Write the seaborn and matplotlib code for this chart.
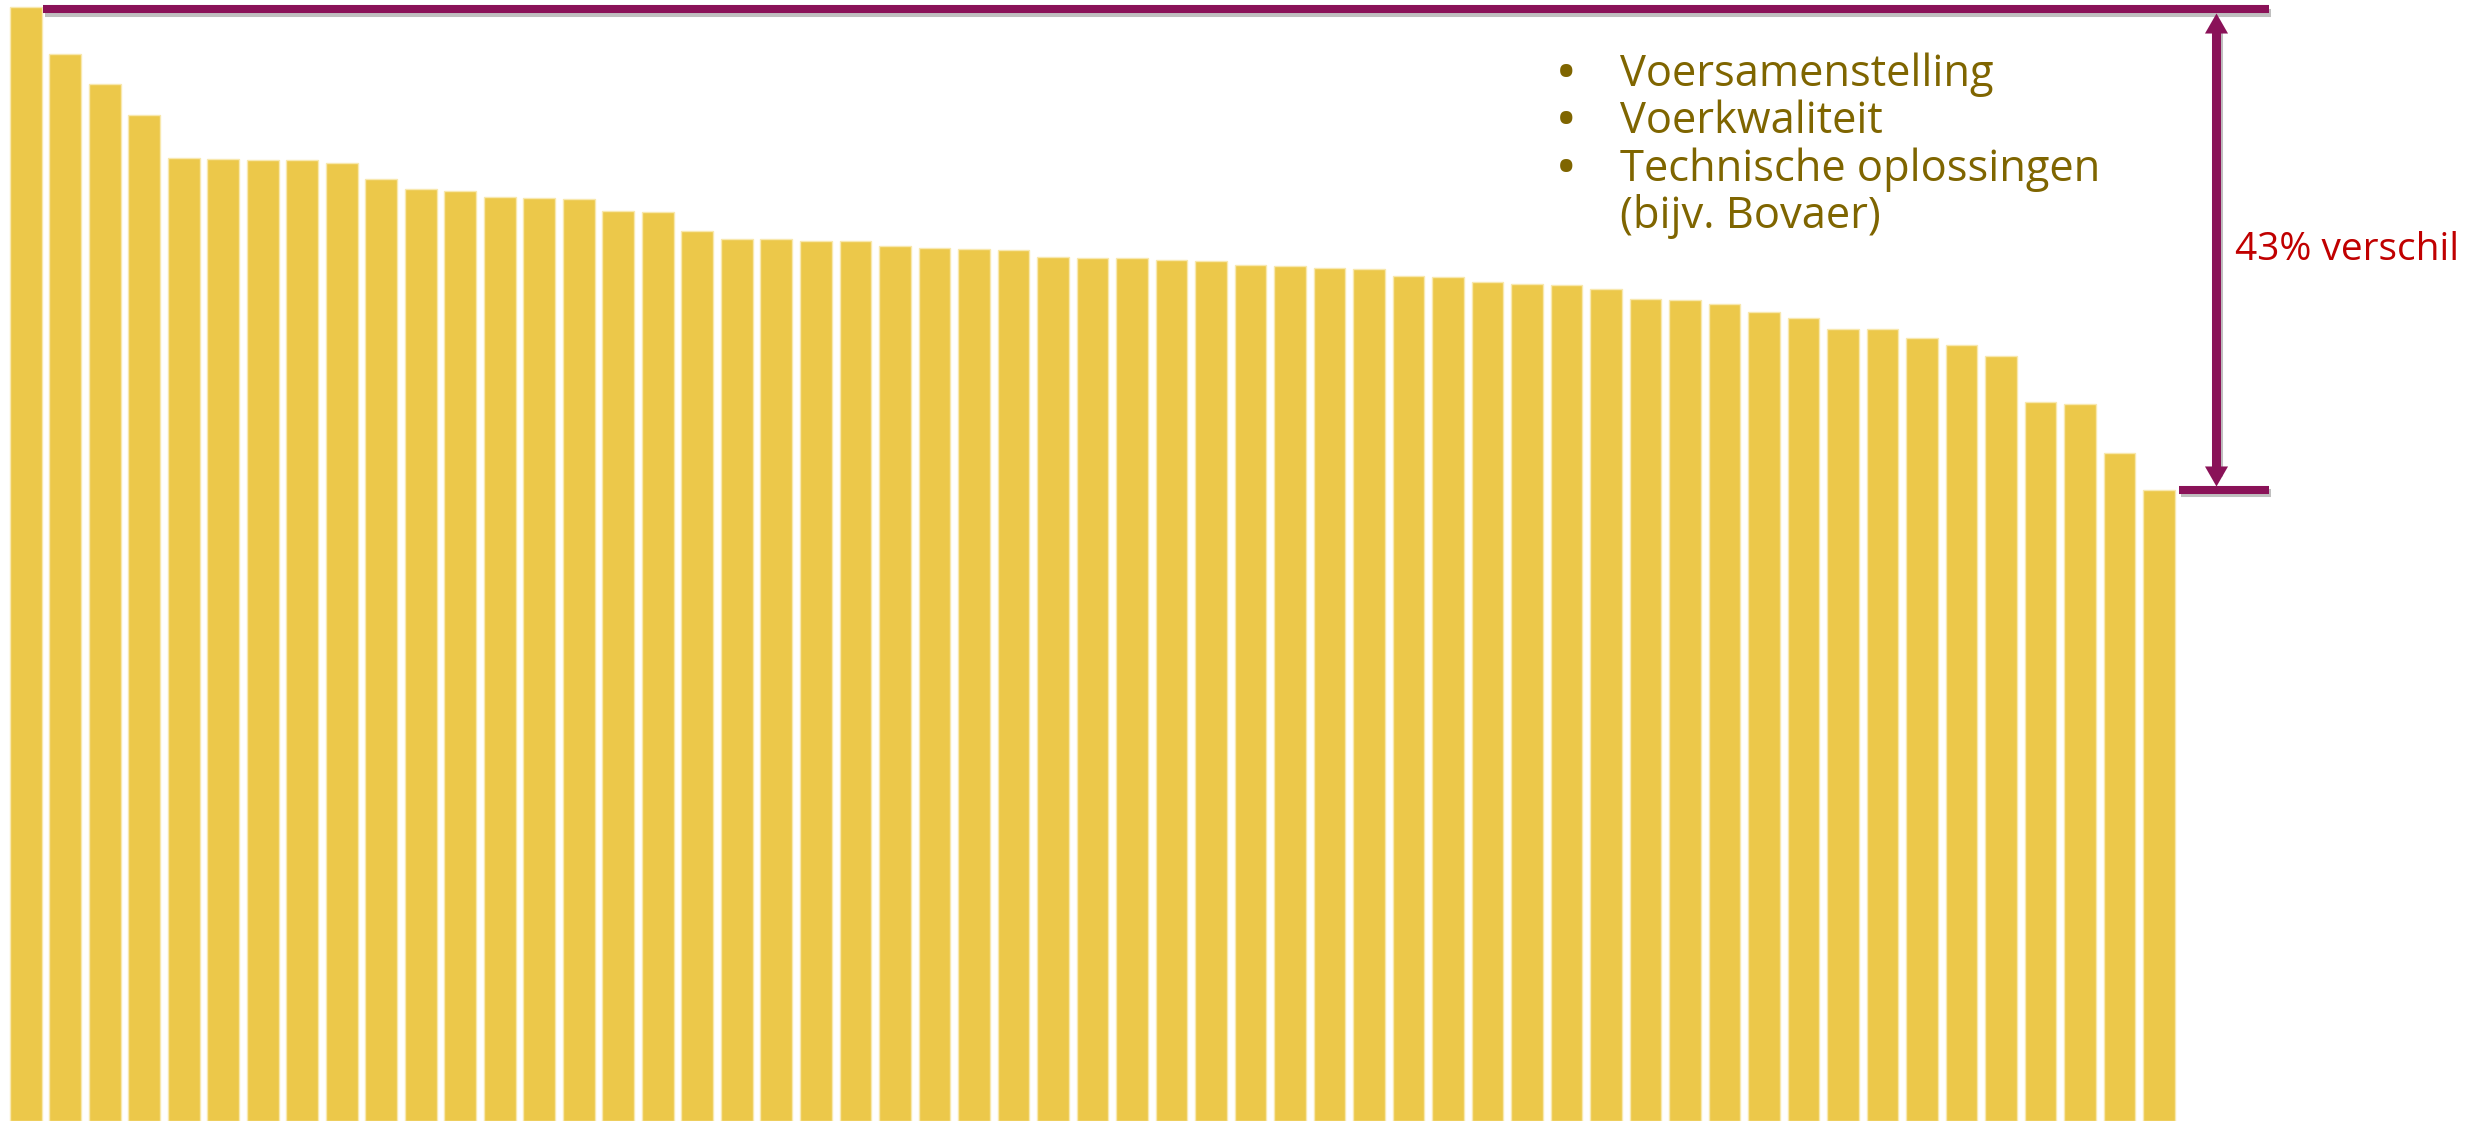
import numpy as np
import matplotlib
matplotlib.use("Agg")
import matplotlib.pyplot as plt
import matplotlib.patheffects as pe
from matplotlib.transforms import offset_copy
import seaborn as sns

# relatieve uitstoot per bedrijf (hoogste = 100)
bedrijven = list(range(1, 56))
uitstoot = [100.0, 95.8, 93.1, 90.3, 86.5, 86.4, 86.3, 86.3, 86.0, 84.6,
            83.7, 83.5, 83.0, 82.9, 82.8, 81.7, 81.6, 79.9, 79.2, 79.2,
            79.0, 79.0, 78.6, 78.4, 78.3, 78.2, 77.6, 77.5, 77.5, 77.3,
            77.2, 76.9, 76.8, 76.6, 76.5, 75.9, 75.8, 75.3, 75.2, 75.1,
            74.7, 73.8, 73.7, 73.4, 72.6, 72.1, 71.1, 71.1, 70.3, 69.7,
            68.7, 64.6, 64.4, 60.0, 56.7]
maatregelen = ["Voersamenstelling", "Voerkwaliteit", "Technische oplossingen"]
maatregel_extra = "(bijv. Bovaer)"
verschil_label = "43% verschil"

GEEL = "#ECC84A"
PAARS = "#8A1258"
OLIJF = "#7F6500"
ROOD = "#C00000"

sns.set_style("white")
plt.rcParams['font.family'] = ['Open Sans', 'DejaVu Sans']

W, H = 2482, 1121
fig = plt.figure(figsize=(W / 100, H / 100), dpi=100)
ax = fig.add_axes([0, 0, 1, 1])

sns.barplot(x=bedrijven, y=uitstoot, color=GEEL, saturation=1, width=0.8,
            edgecolor="#F8E8AE", linewidth=1.0, ax=ax)

ax.set_xlim(-0.652, 62.18)
ax.set_ylim(0, 100.66)
ax.axis("off")

hoog = max(uitstoot)
laag = min(uitstoot)
n = len(uitstoot)
x_pijl = n + 0.44
x_eind = n + 1.79

schaduw = [pe.SimpleLineShadow(offset=(1.5, -2.5), shadow_color="k", alpha=0.25),
           pe.Normal()]
y_top = hoog - 0.18
ax.plot([0.437, x_eind], [y_top, y_top], color=PAARS, lw=5.8,
        solid_capstyle="butt", path_effects=schaduw)
ax.plot([n - 0.49, x_eind], [laag, laag], color=PAARS, lw=5.8,
        solid_capstyle="butt", path_effects=schaduw)

# pijl: dikke schacht + driehoekige punten (23 px breed, 20 px hoog)
ax.plot([x_pijl, x_pijl], [laag + 1.5, y_top - 1.5], color=PAARS, lw=6.5,
        solid_capstyle="butt", path_effects=schaduw)
ms = 16.6
kop_h = ms * 0.87
rand = 2.9  # halve lijndikte in punten
punt_op = [(0, 0.87), (-1, -0.87), (1, -0.87)]
punt_neer = [(0, -0.87), (-1, 0.87), (1, 0.87)]
ax.plot([x_pijl], [y_top], marker=punt_op, ms=ms, color=PAARS, mew=0,
        transform=offset_copy(ax.transData, fig=fig, y=-(rand + kop_h / 2), units="points"))
ax.plot([x_pijl], [laag], marker=punt_neer, ms=ms, color=PAARS, mew=0,
        transform=offset_copy(ax.transData, fig=fig, y=(rand + kop_h / 2), units="points"))

ax.text(x_pijl + 0.49, 100.66 * (1 - 260 / H), verschil_label, color=ROOD,
        fontsize=28, va="baseline", ha="left")

# opsomming rechtsboven
fs = 31.3
basis = [86, 133, 181]
for txt, y in zip(maatregelen, basis):
    fig.text(1566 / W, 1 - y / H, "•", color=OLIJF, fontsize=fs,
             fontweight="bold", va="baseline", ha="center")
    fig.text(1620 / W, 1 - y / H, txt, color=OLIJF, fontsize=fs,
             va="baseline", ha="left")
fig.text(1620 / W, 1 - 228 / H, maatregel_extra, color=OLIJF, fontsize=fs,
         va="baseline", ha="left")

fig.savefig("out.png", dpi=100, facecolor="white")
